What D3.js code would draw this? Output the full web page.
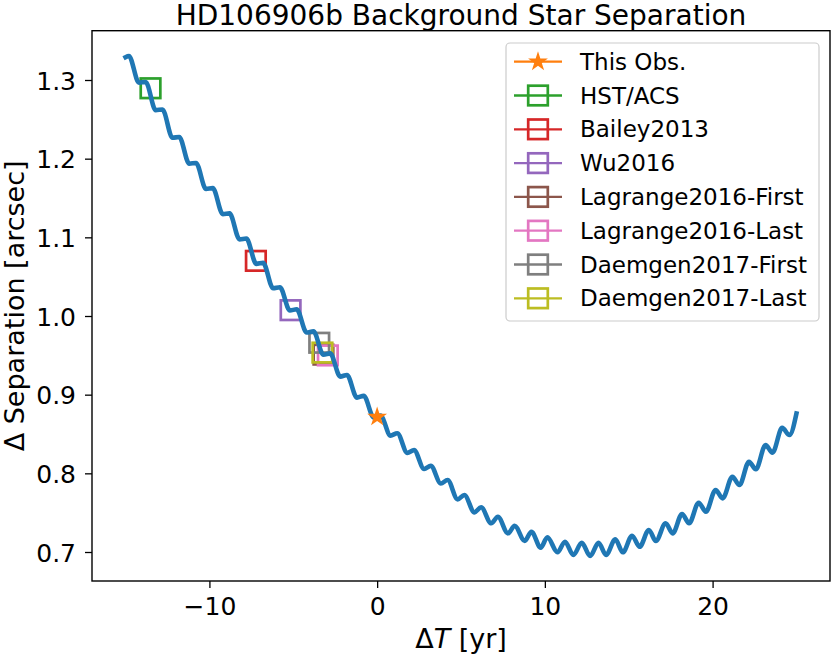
<!DOCTYPE html>
<html>
<head>
<meta charset="utf-8">
<script src="https://cdn.jsdelivr.net/npm/d3@7"></script>
<style>
  html, body { margin: 0; padding: 0; background: #fff; }
  svg { display: block; font-family: "DejaVu Sans", sans-serif; }
</style>
</head>
<body>
<svg id="chart" width="831" height="656"></svg>
<script>
// background star track: local maxima / minima
const trackYears = [
  -15.0, -14.8, -14.2, -13.8, -13.2, -12.8, -12.2, -11.8, -11.2, -10.8,
  -10.2, -9.8, -9.2, -8.8, -8.2, -7.8, -7.2, -6.8, -6.2, -5.8,
  -5.2, -4.8, -4.2, -3.8, -3.2, -2.8, -2.2, -1.8, -1.2, -0.8,
  -0.2, 0.2, 0.8, 1.2, 1.8, 2.2, 2.8, 3.2, 3.8, 4.2,
  4.8, 5.2, 5.8, 6.2, 6.8, 7.2, 7.8, 8.2, 8.8, 9.2,
  9.75, 10.15, 10.75, 11.2, 11.7, 12.2, 12.7, 13.2, 13.65, 14.2,
  14.65, 15.2, 15.65, 16.2, 16.62, 17.2, 17.62, 18.18, 18.6, 19.17,
  19.6, 20.18, 20.6, 21.18, 21.6, 22.17, 22.58, 23.16, 23.57, 24.15,
  24.58, 25.0
];
const trackSep = [
  1.3290, 1.3305, 1.2967, 1.2975, 1.2617, 1.2625, 1.2266, 1.2275, 1.1936, 1.1945,
  1.1615, 1.1625, 1.1295, 1.1305, 1.0974, 1.0985, 1.0663, 1.0675, 1.0352, 1.0365,
  1.0071, 1.0085, 0.9790, 0.9805, 0.9508, 0.9525, 0.9230, 0.9250, 0.8963, 0.8985,
  0.8710, 0.8735, 0.8480, 0.8510, 0.8260, 0.8295, 0.8055, 0.8095, 0.7870, 0.7915,
  0.7669, 0.7725, 0.7504, 0.7568, 0.7365, 0.7449, 0.7237, 0.7334, 0.7140, 0.7258,
  0.7055, 0.7187, 0.6996, 0.7131, 0.6962, 0.7118, 0.6949, 0.7118, 0.6962, 0.7161,
  0.6996, 0.7207, 0.7067, 0.7280, 0.7140, 0.7365, 0.7237, 0.7483, 0.7365, 0.7627,
  0.7512, 0.7788, 0.7682, 0.7957, 0.7851, 0.8147, 0.8051, 0.8360, 0.8262, 0.8579,
  0.8487, 0.8762
];

// observed epochs
const obsLabels = ["This Obs.", "HST/ACS", "Bailey2013", "Wu2016",
  "Lagrange2016-First", "Lagrange2016-Last", "Daemgen2017-First", "Daemgen2017-Last"];
const obsYears = [0.0, -13.51, -7.23, -5.16, -3.20, -2.94, -3.45, -3.26];
const obsSeps = [0.8717, 1.2895, 1.0701, 1.0074, 0.9509, 0.9499, 0.9660, 0.9535];

const xTicks = [-10, 0, 10, 20];
const yTicks = [0.7, 0.8, 0.9, 1.0, 1.1, 1.2, 1.3];

const palette = ["#ff7f0e", "#2ca02c", "#d62728", "#9467bd",
  "#8c564b", "#e377c2", "#7f7f7f", "#bcbd22"];

const svg = d3.select("#chart");
const plotL = 92, plotR = 830, plotT = 30.7, plotB = 581;

const x = d3.scaleLinear().domain([-17, 27]).range([plotL, plotR]);
const y = d3.scaleLinear().domain([0.66314, 1.36267]).range([plotB, plotT]);

svg.append("rect").attr("width", 831).attr("height", 656).attr("fill", "#fff");

// axes
const xAxis = svg.append("g")
    .attr("transform", `translate(0,${plotB})`)
    .call(d3.axisBottom(x).tickValues(xTicks).tickSize(7).tickPadding(8)
      .tickFormat(d3.format("d")));
const yAxis = svg.append("g")
    .attr("transform", `translate(${plotL},0)`)
    .call(d3.axisLeft(y).tickValues(yTicks).tickSize(7).tickPadding(9)
      .tickFormat(d3.format(".1f")));

[xAxis, yAxis].forEach(function(g) {
    g.select(".domain").remove();
    g.selectAll(".tick line").attr("stroke", "#000").attr("stroke-width", 1.3);
    g.selectAll(".tick text").attr("fill", "#000")
        .style("font-family", "DejaVu Sans").style("font-size", "25px");
});
xAxis.selectAll(".tick text").attr("dy", "0.74em");
yAxis.selectAll(".tick text").attr("dy", "0.37em");

// observation squares (under the track)
const squares = d3.range(1, obsLabels.length);
svg.append("g").selectAll("rect").data(squares).enter().append("rect")
    .attr("x", i => x(obsYears[i]) - 9.8)
    .attr("y", i => y(obsSeps[i]) - 9.8)
    .attr("width", 19.6).attr("height", 19.6)
    .attr("fill", "none")
    .attr("stroke", i => palette[i])
    .attr("stroke-width", 2.7);

// track
const line = d3.line()
    .x((d, i) => x(trackYears[i]))
    .y(d => y(d))
    .curve(d3.curveMonotoneX);
svg.append("path")
    .attr("d", line(trackSep))
    .attr("fill", "none")
    .attr("stroke", "#1f77b4")
    .attr("stroke-width", 4.6)
    .attr("stroke-linecap", "square")
    .attr("stroke-linejoin", "round");

const star = d3.symbol().type(d3.symbolStar).size(122);
svg.append("path")
    .attr("d", star())
    .attr("transform", `translate(${x(obsYears[0])},${y(obsSeps[0])})`)
    .attr("fill", palette[0]);

// frame
svg.append("rect")
    .attr("x", plotL).attr("y", plotT)
    .attr("width", plotR - plotL).attr("height", plotB - plotT)
    .attr("fill", "none").attr("stroke", "#000").attr("stroke-width", 1.4);

// title and labels
svg.append("text")
    .attr("x", (plotL + plotR) / 2).attr("y", 25)
    .attr("text-anchor", "middle")
    .style("font-size", "28px")
    .text("HD106906b Background Star Separation");

const xl = svg.append("text")
    .attr("x", (plotL + plotR) / 2).attr("y", 648)
    .attr("text-anchor", "middle")
    .style("font-size", "27px");
xl.append("tspan").text("Δ");
xl.append("tspan").style("font-style", "italic").text("T");
xl.append("tspan").text(" [yr]");

svg.append("text")
    .attr("transform", `translate(24,${(plotT + plotB) / 2}) rotate(-90)`)
    .attr("text-anchor", "middle")
    .style("font-size", "27px")
    .text("Δ Separation [arcsec]");

// legend
const legend = svg.append("g");
legend.append("rect")
    .attr("x", 506).attr("y", 43).attr("width", 313).attr("height", 278)
    .attr("rx", 4)
    .attr("fill", "#fff").attr("fill-opacity", 0.8)
    .attr("stroke", "#cccccc").attr("stroke-width", 1.2);

const rows = legend.selectAll("g.row").data(obsLabels).enter().append("g")
    .attr("class", "row")
    .attr("transform", (d, i) => `translate(0,${61.7 + i * 33.8})`);

rows.append("line")
    .attr("x1", 514).attr("x2", 562)
    .attr("stroke", (d, i) => palette[i])
    .attr("stroke-width", 2.3);

rows.each(function(d, i) {
    const g = d3.select(this);
    if (i === 0) {
        g.append("path").attr("d", star())
            .attr("transform", "translate(538,0)")
            .attr("fill", palette[0]);
    } else {
        g.append("rect")
            .attr("x", 538 - 9.8).attr("y", -9.8)
            .attr("width", 19.6).attr("height", 19.6)
            .attr("fill", "none")
            .attr("stroke", palette[i])
            .attr("stroke-width", 2.7);
    }
});

rows.append("text")
    .attr("x", 580).attr("y", 8)
    .style("font-size", "23px")
    .text(d => d);
</script>
</body>
</html>
